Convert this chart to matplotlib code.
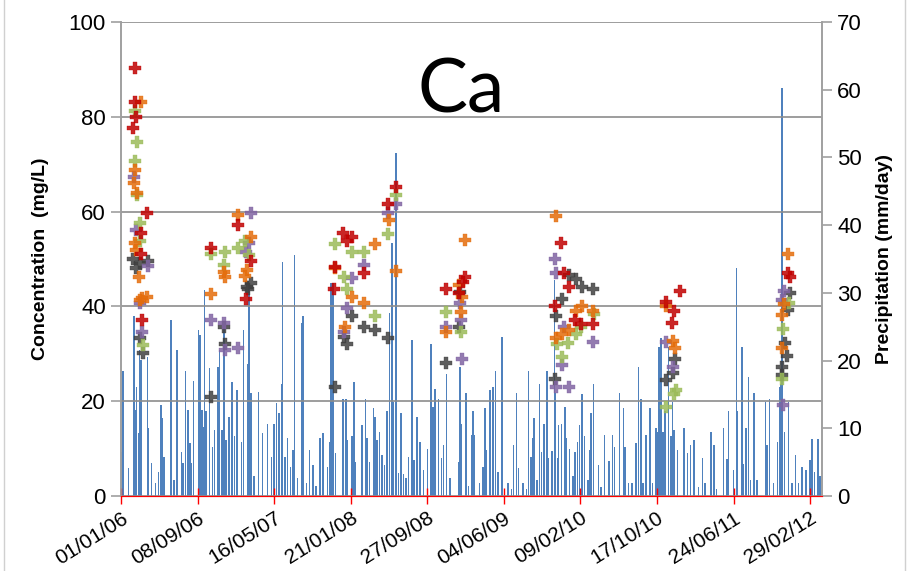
import numpy as np
import matplotlib
matplotlib.use('Agg')
import matplotlib.pyplot as plt
import matplotlib.dates as mdates
from matplotlib.patches import Rectangle

plt.rcParams['font.family'] = ['Liberation Sans', 'DejaVu Sans']

## all times are days since the start of the record
START = np.datetime64('2006-01-01')
END_DAY = 2288

## daily precipitation (mm/day), only the days that show up as bars
precip_day = [3, 7, 25, 42, 47, 50, 58, 61, 66, 86, 90, 99, 112, 123, 131, 135, 140, 164, 173, 182,
              197, 202, 211, 218, 226, 229, 237, 253, 257, 264, 267, 273, 278, 289, 298, 305, 316, 322,
              329, 336, 343, 352, 362, 371, 378, 380, 394, 400, 415, 418, 424, 435, 449, 462, 478, 492,
              500, 508, 516, 524, 527, 536, 543, 554, 562, 566, 576, 589, 594, 605, 616, 627, 636, 649,
              660, 674, 681, 685, 693, 701, 725, 734, 739, 755, 761, 765, 787, 798, 803, 812, 825, 830,
              836, 844, 852, 860, 868, 876, 877, 884, 890, 897, 906, 915, 923, 931, 939, 950, 957, 966,
              977, 988, 1001, 1013, 1018, 1026, 1037, 1047, 1053, 1062, 1075, 1102, 1107, 1112, 1127,
              1134, 1146, 1150, 1153, 1171, 1182, 1188, 1193, 1204, 1215, 1223, 1231, 1244, 1245, 1264,
              1275, 1282, 1291, 1298, 1313, 1324, 1331, 1338, 1346, 1349, 1359, 1367, 1373, 1381, 1391,
              1396, 1408, 1416, 1418, 1425, 1429, 1438, 1449, 1454, 1465, 1476, 1483, 1490, 1497, 1506,
              1514, 1524, 1530, 1534, 1542, 1559, 1567, 1578, 1594, 1605, 1612, 1627, 1641, 1646, 1657,
              1668, 1681, 1689, 1697, 1705, 1714, 1727, 1735, 1746, 1751, 1757, 1763, 1770, 1777, 1787,
              1795, 1800, 1806, 1817, 1839, 1850, 1860, 1871, 1885, 1899, 1907, 1927, 1936, 1944, 1968,
              1978, 1984, 2000, 2009, 2013, 2028, 2033, 2041, 2049, 2055, 2066, 2077, 2104, 2109, 2118,
              2131, 2144, 2151, 2155, 2159, 2166, 2180, 2191, 2202, 2212, 2223, 2237, 2250, 2256, 2265,
              2275, 2282]
precip_mm = [6.5, 18.5, 4.1, 26.6, 12.7, 16.1, 9.3, 21.6, 20.1, 20.6, 10.0, 4.9, 1.9, 3.6, 13.4, 11.5, 5.8, 26.0, 2.4, 21.6,
             6.5, 4.9, 18.5, 12.7, 7.9, 4.9, 17.0, 24.5, 23.8, 12.7, 10.2, 30.4, 12.5, 18.9, 7.3, 9.7, 19.1, 21.6,
             9.7, 24.8, 8.3, 11.7, 16.9, 8.8, 15.7, 10.0, 8.0, 24.5, 19.5, 31.2, 15.2, 2.9, 15.4, 9.3, 10.7, 5.8,
             10.7, 13.7, 12.2, 16.6, 34.6, 5.8, 8.5, 4.3, 6.8, 35.6, 2.6, 25.5, 26.6, 1.9, 6.8, 4.6, 1.5, 8.5,
             9.3, 4.3, 8.0, 31.5, 31.4, 6.3, 14.4, 14.4, 8.3, 8.8, 16.9, 5.0, 10.5, 14.4, 8.5, 5.0, 13.0, 11.7,
             8.3, 9.5, 6.0, 4.6, 12.5, 27.1, 16.6, 37.4, 13.9, 50.6, 3.4, 12.3, 3.2, 2.7, 5.8, 23.0, 5.3, 11.7,
             8.0, 3.8, 7.0, 22.5, 13.2, 15.8, 14.4, 5.6, 7.5, 18.0, 2.6, 5.0, 19.0, 10.7, 15.2,
             1.5, 9.0, 12.5, 9.0, 1.9, 4.3, 13.0, 6.8, 15.7, 16.1, 18.5, 3.6, 23.5, 11.5, 1.9,
             1.1, 7.5, 15.2, 4.1, 1.9, 1.1, 18.5, 5.8, 8.5, 11.5, 2.4, 16.6, 6.5, 10.7, 18.5,
             5.6, 6.6, 31.9, 15.2, 5.6, 10.5, 10.7, 13.2, 8.5, 7.0, 2.9, 6.5, 8.0, 10.5, 15.1,
             8.8, 2.4, 6.8, 12.3, 16.6, 4.6, 1.4, 9.0, 5.1, 9.0, 7.3, 15.2, 13.0, 7.3, 1.9,
             1.9, 7.8, 19.1, 14.4, 1.9, 9.0, 13.0, 1.9, 10.0, 9.5, 22.0, 23.4, 9.5, 12.5, 22.0,
             8.8, 13.9, 9.7, 6.8, 10.0, 6.3, 7.5, 8.3, 1.4, 5.6, 1.9, 9.5, 7.5, 1.0, 10.0,
             5.4, 12.5, 3.8, 33.6, 12.5, 22.0, 4.8, 10.0, 17.6, 2.4, 15.2, 2.4, 13.9, 7.5, 14.4,
             1.9, 8.0, 16.1, 16.6, 60.3, 9.5, 13.9, 1.9, 6.0, 1.9, 4.3, 3.8, 5.3, 8.4, 3.5,
             8.4, 3.0]

## Ca concentration (mg/L) per sampling point
red_day = [46, 46, 49, 40, 86, 64, 64, 67, 382, 293, 424, 407, 897, 871, 725, 755, 738, 698, 792, 694,
           1124, 1116, 1060, 1103, 1437, 1447, 1464, 1418, 1483, 1502, 1542, 1826, 1779, 1806, 1800, 2179, 2183]
red_ca = [90.2, 83.2, 80.0, 77.6, 59.6, 55.5, 51.0, 37.1, 57.2, 52.3, 49.6, 41.5, 65.1, 61.7, 55.4, 54.6, 53.7, 48.4, 47.0, 43.6,
          46.3, 45.2, 43.6, 42.8, 53.3, 47.1, 44.0, 40.1, 37.1, 36.3, 36.3, 43.3, 41.0, 39.1, 36.6, 47.0, 46.1]

orange_day = [64, 47, 42, 51, 44, 49, 60, 84, 67, 62, 382, 424, 337, 339, 410, 404, 293, 875, 828, 698, 897, 755,
              792, 731, 1124, 1105, 1114, 1111, 1060, 1421, 1505, 1486, 1542, 1464, 1440, 1421, 1779, 1803, 1809,
              2179, 2165, 2157, 2157]
orange_ca = [83.2, 68.8, 66.0, 63.9, 53.3, 52.0, 46.1, 42.0, 41.7, 41.3, 59.3, 54.6, 47.2, 46.1, 47.7, 46.4, 42.6, 58.2, 53.2, 48.0, 47.5, 42.0,
             40.7, 35.7, 54.0, 44.5, 42.0, 38.9, 34.7, 59.1, 40.1, 39.1, 39.1, 35.0, 34.2, 33.3, 40.1, 32.6, 31.2,
             51.0, 40.5, 38.1, 31.2]

green_day = [46, 51, 47, 52, 62, 62, 71, 295, 341, 382, 404, 418, 336, 899, 871, 698, 755, 792, 727, 738, 828,
             1060, 1111, 1545, 1502, 1486, 1459, 1423, 1440, 1812, 1806, 1781, 2181, 2161, 2157]
green_ca = [81.2, 74.6, 70.7, 63.5, 57.7, 53.7, 31.9, 51.0, 51.5, 52.3, 53.7, 50.8, 48.7, 63.6, 55.3, 53.2, 51.5, 51.5, 46.3, 43.6, 38.0,
            38.9, 34.5, 38.4, 35.7, 34.2, 32.3, 32.1, 29.3, 22.4, 21.5, 18.8, 40.8, 35.2, 24.6]

purple_day = [43, 49, 89, 62, 67, 423, 417, 407, 293, 337, 339, 382, 899, 871, 792, 755, 738, 727,
              1108, 1111, 1060, 1113, 1418, 1421, 1447, 1542, 1440, 1421, 1464, 1779, 1803, 2165, 2157, 2161]
purple_ca = [67.2, 56.1, 48.5, 40.7, 34.7, 59.6, 53.3, 51.5, 37.1, 36.4, 30.7, 31.2, 61.7, 59.8, 48.7, 45.9, 39.6, 34.7,
             40.7, 37.1, 35.7, 29.0, 50.1, 47.1, 35.7, 32.4, 27.6, 22.9, 22.9, 32.4, 27.3, 43.3, 41.3, 19.2]

black_day = [40, 62, 89, 49, 62, 71, 423, 410, 415, 293, 337, 339, 755, 792, 828, 727, 738, 871, 698,
             1105, 1108, 1060, 1464, 1486, 1504, 1542, 1440, 1421, 1418, 1809, 1803, 1781,
             2183, 2179, 2168, 2175, 2159, 2157]
black_ca = [50.1, 49.1, 49.6, 48.0, 33.3, 30.1, 45.0, 44.0, 43.6, 20.8, 35.6, 32.1, 38.0, 35.6, 35.0, 33.6, 32.1, 33.3, 22.9,
            35.7, 43.1, 28.0, 46.6, 45.7, 44.0, 43.7, 41.5, 38.0, 24.6, 29.0, 26.0, 24.5,
            42.8, 39.2, 32.2, 29.5, 27.2, 25.5]

xtick_days = [0, 250, 500, 750, 1000, 1250, 1500, 1750, 2000, 2250]


def to_dates(days):
    return START + np.array(days, dtype='timedelta64[D]')


fig = plt.figure(figsize=(9.1, 5.71), dpi=100)
ax = fig.add_axes([0.133, 0.1313, 0.770, 0.8302])
ax2 = ax.twinx()

## precipitation bars on the secondary axis
ax2.bar(to_dates(precip_day), precip_mm, width=5, color='#4F81BD', linewidth=0)
ax2.set_ylim(0, 70)
ax2.set_yticks(range(0, 71, 10))
ax2.set_ylabel('Precipitation (mm/day)', fontsize=14, fontweight='bold', labelpad=10)

## concentration points drawn on top
ax.set_zorder(ax2.get_zorder() + 1)
ax.patch.set_visible(False)
series = [
    (black_day, black_ca, '#404040'),
    (purple_day, purple_ca, '#8064A2'),
    (green_day, green_ca, '#9BBB59'),
    (orange_day, orange_ca, '#E46C0A'),
    (red_day, red_ca, '#C00000'),
]
for days, vals, col in series:
    ax.plot(to_dates(days), vals, linestyle='none', marker='P', ms=8.5,
            color=col, mec=col, mew=0.3, alpha=0.85)

ax.set_ylim(0, 100)
ax.set_yticks(range(0, 101, 20))
ax.set_ylabel('Concentration  (mg/L)', fontsize=14, fontweight='bold', labelpad=14)
ax.grid(axis='y', color='#8C8C8C', linewidth=1.2)
ax.set_axisbelow(True)

ax.set_xlim(START, START + np.timedelta64(END_DAY, 'D'))
ax.set_xticks(to_dates(xtick_days))
ax.xaxis.set_major_formatter(mdates.DateFormatter('%d/%m/%y'))
plt.setp(ax.get_xticklabels(), rotation=32, ha='right', rotation_mode='anchor')

## excel style spines and ticks
for a in (ax, ax2):
    a.spines['top'].set_visible(False)
    a.spines['left'].set_color('#A0A0A0')
    a.spines['right'].set_color('#A0A0A0')
    a.spines['bottom'].set_color('red')
    a.spines['left'].set_linewidth(1.2)
    a.spines['right'].set_linewidth(1.2)
ax.tick_params(axis='y', colors='#A0A0A0', labelcolor='black', labelsize=16, length=7, width=1.2, pad=4)
ax2.tick_params(axis='y', colors='#A0A0A0', labelcolor='black', labelsize=16, length=7, width=1.2, pad=4)
ax.tick_params(axis='x', colors='red', labelcolor='black', labelsize=15, length=12, width=1,
               direction='inout', pad=3)

ax.text(0.485, 0.855, 'Ca', transform=ax.transAxes, ha='center', va='center',
        fontsize=54, family=['Lato', 'DejaVu Sans'])

fig.patches.append(Rectangle((0.004, -0.01), 0.99, 1.02, transform=fig.transFigure,
                             fill=False, edgecolor='#D0D0D0', linewidth=1))

fig.savefig('out.png', dpi=100)
